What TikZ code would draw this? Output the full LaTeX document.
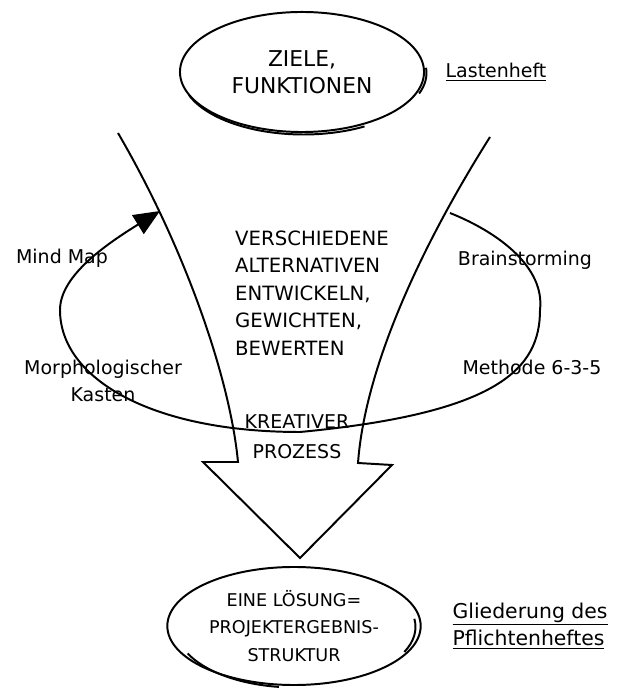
\documentclass[tikz,border=0pt]{standalone}
\usepackage{fontspec}
\setmainfont{DejaVu Sans}
\usetikzlibrary{shapes.geometric,arrows.meta}
\newcommand{\hand}{\fontsize{13.5}{19}\selectfont}
\newcommand{\caps}[1]{\fontsize{#1}{19.5}\selectfont}

\begin{document}
\begin{tikzpicture}[x=0.025cm,y=0.025cm,line width=1.4pt]
  \useasboundingbox (0,0) rectangle (621,698);

  \node [ellipse,draw,minimum width=6.1cm,minimum height=3cm,align=center,font=\caps{15.5}] (ziele) at (302,626) {ZIELE,\\FUNKTIONEN};
  \node [right of=ziele,node distance=4.85cm,font=\hand] (lasten) {\underline{Lastenheft}};
  \draw ([shift={(1.5,-2.5)}]ziele.center) ++(200:122 and 60) arc [start angle=200,end angle=300,x radius=122,y radius=60];
  \draw ([shift={(2.5,-1)}]ziele.center) ++(-20:122 and 60) arc [start angle=-20,end angle=5,x radius=122,y radius=60];

  \draw (118,565) .. controls (185,450) and (230,320) .. (238,236) -- (203,236) -- (300,140)
        -- (392,233) -- (358,235) .. controls (365,330) and (420,450) .. (490,561);

  \coordinate (start) at (450,485);
  \coordinate (tip) at (160,487);
  \draw [-{Triangle[length=6.5mm,width=5.5mm]}] (start) .. controls (500,465) and (545,430) .. (540,388)
        .. controls (540,330) and (500,285) .. (300,266) .. controls (150,266) and (60,320) .. (60,388)
        .. controls (60,420) and (100,450) .. (tip);

  \node [font=\caps{14},align=left] (alternativen) at (312,405) {VERSCHIEDENE\\ALTERNATIVEN\\ENTWICKELN,\\GEWICHTEN,\\BEWERTEN};
  \node [font=\caps{13.5}] (kreativ) at (297,276) {KREATIVER};
  \node [below of=kreativ,node distance=0.75cm,font=\caps{13.5}] (prozess) {PROZESS};

  \node [font=\hand] (mindmap) at (62,440) {Mind Map};
  \node [font=\hand,align=center] (morph) at (103,317) {Morphologischer\\Kasten};
  \node [font=\hand] (brain) at (525,438) {Brainstorming};
  \node [font=\hand] (methode) at (532,331) {Methode 6-3-5};

  \node [ellipse,draw,minimum width=5.95cm,minimum height=2.95cm,align=center,font=\caps{12.5}] (loesung) at (294,72) {EINE LÖSUNG=\\PROJEKTERGEBNIS-\\STRUKTUR};
  \node [right of=loesung,node distance=5.9cm,font=\fontsize{14.5}{19.5}\selectfont,align=left] (pflichten) {\underline{Gliederung des}\\\underline{Pflichtenheftes}};
  \draw ([shift={(1.5,-2.5)}]loesung.center) ++(205:119 and 59) arc [start angle=205,end angle=262,x radius=119,y radius=59];
  \draw ([shift={(2.5,-1)}]loesung.center) ++(-25:119 and 59) arc [start angle=-25,end angle=8,x radius=119,y radius=59];
\end{tikzpicture}
\end{document}
